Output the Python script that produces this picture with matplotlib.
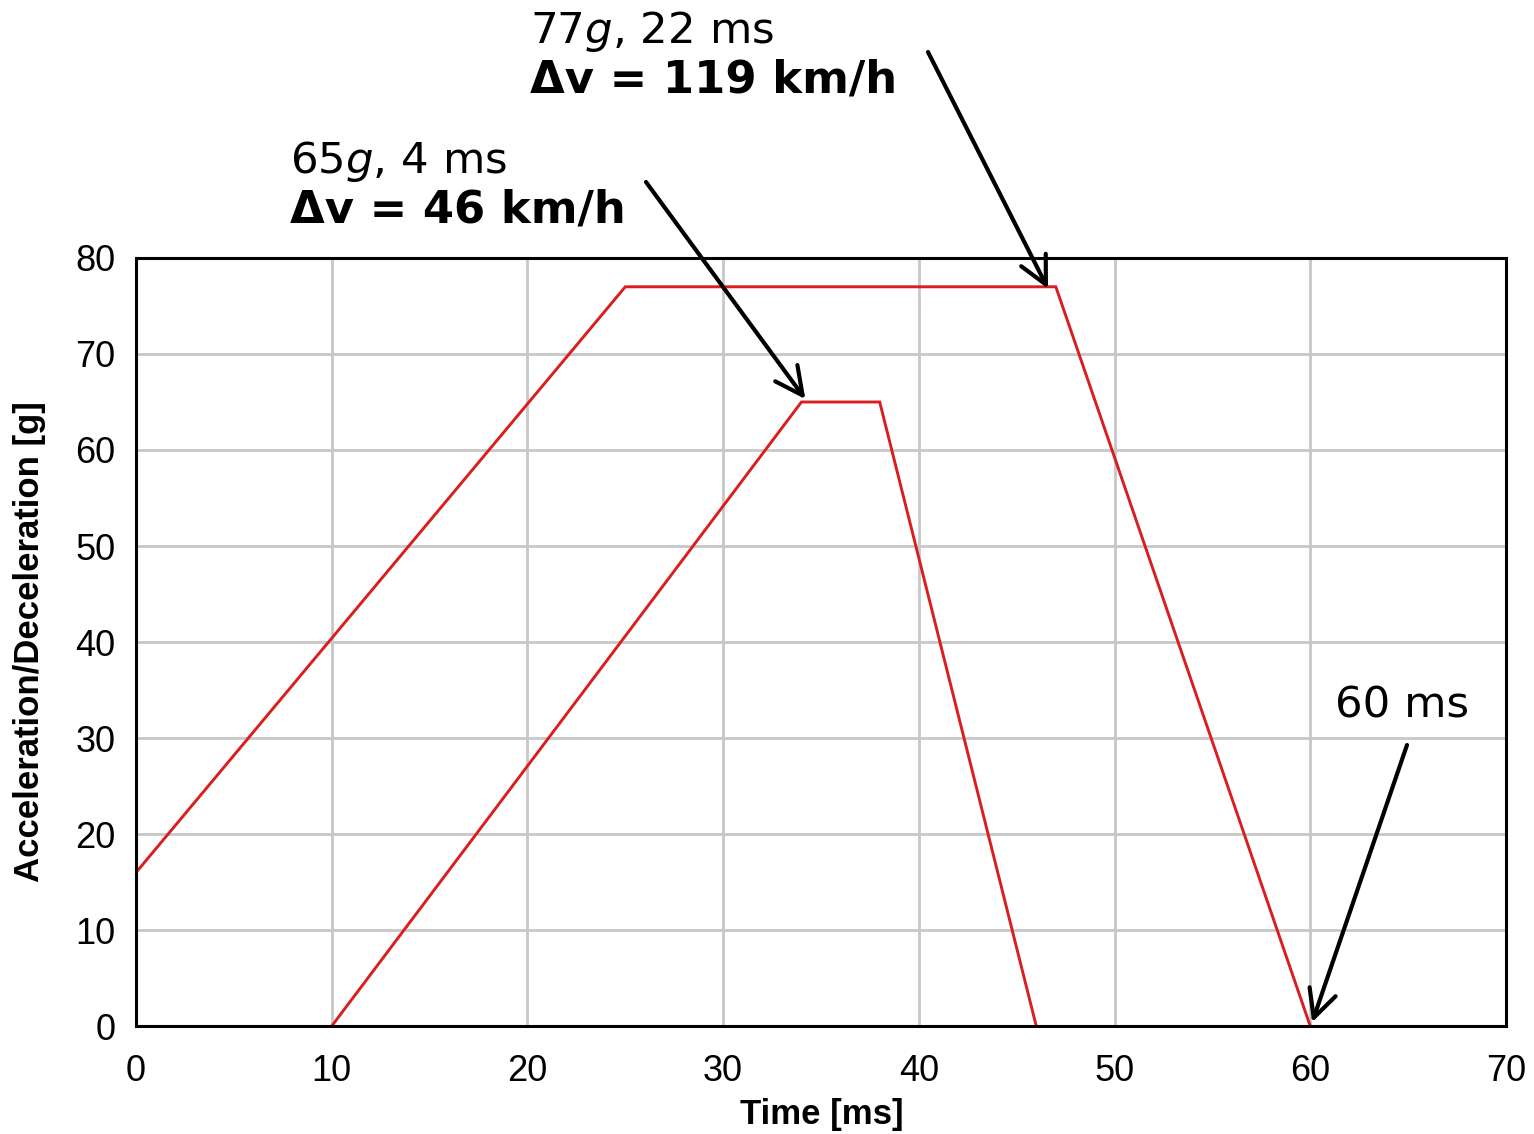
import matplotlib
matplotlib.use("Agg")
import matplotlib.pyplot as plt

# pulse shapes (time in ms, acceleration in g)
long_t = [0, 25, 47, 60]
long_g = [16, 77, 77, 0]
short_t = [10, 34, 38, 46]
short_g = [0, 65, 65, 0]

x_ticks = [0, 10, 20, 30, 40, 50, 60, 70]
y_ticks = [0, 10, 20, 30, 40, 50, 60, 70, 80]

red = "#d81e1e"

fig = plt.figure(figsize=(15.34, 11.34), dpi=100)
ax = fig.add_axes([0.0887, 0.0952, 0.8930, 0.6773])

ax.plot(long_t, long_g, color=red, lw=2.1, solid_joinstyle="miter")
ax.plot(short_t, short_g, color=red, lw=2.1, solid_joinstyle="miter")

ax.set_xlim(0, 70)
ax.set_ylim(0, 80)
ax.set_xticks(x_ticks)
ax.set_yticks(y_ticks)
ax.grid(True, color="#c8c8c8", lw=2)
ax.set_axisbelow(True)
for s in ax.spines.values():
    s.set_linewidth(2.2)
    s.set_color("black")
ax.tick_params(axis="both", length=0, labelsize=26)
ax.tick_params(axis="x", pad=20)
ax.tick_params(axis="y", pad=15)
for lab in ax.get_xticklabels() + ax.get_yticklabels():
    lab.set_family("Liberation Sans")

ax.set_xlabel("Time [ms]", fontsize=25, fontweight="bold", family="Liberation Sans")
ax.set_ylabel("Acceleration/Deceleration [g]", fontsize=25, fontweight="bold",
              family="Liberation Sans")
ax.xaxis.set_label_coords(0.5007, -0.094)
ax.yaxis.set_label_coords(-0.066, 0.501)

# annotations (text in figure pixels, arrows point at data)
H = 1134
fs = 31.3
fsb = 32.3
fig.text(530 / 1534, 1 - 43 / H, r"77$\it{g}$, 22 ms", fontsize=fs, va="baseline",
         family="DejaVu Sans")
fig.text(530 / 1534, 1 - 93 / H, "Δv = 119 km/h", fontsize=fsb, va="baseline",
         fontweight="bold", family="DejaVu Sans")
fig.text(290 / 1534, 1 - 173 / H, r"65$\it{g}$, 4 ms", fontsize=fs, va="baseline",
         family="DejaVu Sans")
fig.text(290 / 1534, 1 - 223 / H, "Δv = 46 km/h", fontsize=fsb, va="baseline",
         fontweight="bold", family="DejaVu Sans")
fig.text(1335 / 1534, 1 - 718 / H, "60 ms", fontsize=fs, va="baseline",
         family="DejaVu Sans")

arrow = dict(arrowstyle="->,head_length=0.9,head_width=0.45", color="black",
             lw=3, shrinkA=0, shrinkB=0, mutation_scale=22)
ax.annotate("", xy=(46.6, 76.8), xycoords="data", xytext=(928, H - 52),
            textcoords="figure pixels", arrowprops=arrow)
ax.annotate("", xy=(34.2, 65.3), xycoords="data", xytext=(646, H - 182),
            textcoords="figure pixels", arrowprops=arrow)
ax.annotate("", xy=(60.1, 0.4), xycoords="data", xytext=(1407, H - 745),
            textcoords="figure pixels", arrowprops=arrow)

fig.savefig("out.png", dpi=100)
